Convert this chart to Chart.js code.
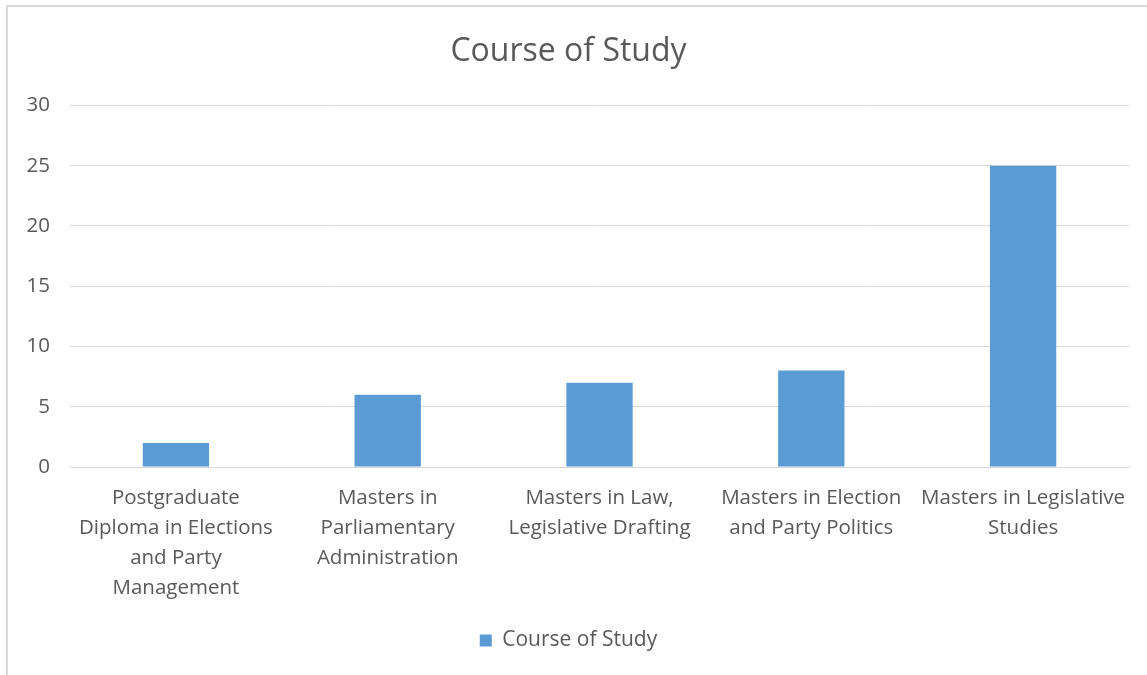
<!DOCTYPE html>
<html lang="en">
<head>
    <meta charset="UTF-8">
    <title>Course of Study</title>
    <script src="https://cdn.jsdelivr.net/npm/chart.js@4.4.0/dist/chart.umd.min.js"></script>
    <style>
        body {
            margin: 0;
            background: #ffffff;
            overflow: hidden;
        }

        .frame {
            position: absolute;
            left: 6px;
            top: 5px;
            width: 1150px;
            height: 680px;
            border: 2px solid #d9d9d9;
            box-sizing: border-box;
        }

        .chart-box {
            position: absolute;
            left: 8px;
            top: 7px;
            width: 1139px;
            height: 668px;
        }
    </style>
</head>
<body>
    <div class="frame"></div>
    <div class="chart-box">
        <canvas id="courseChart"></canvas>
    </div>

    <script>
        const courses = [
            ['Postgraduate', 'Diploma in Elections', 'and Party', 'Management'],
            ['Masters in', 'Parliamentary', 'Administration'],
            ['Masters in Law,', 'Legislative Drafting'],
            ['Masters in Election', 'and Party Politics'],
            ['Masters in Legislative', 'Studies']
        ];
        const students = [2, 6, 7, 8, 25];
        const yTicks = [0, 5, 10, 15, 20, 25, 30];

        const textColor = '#595959';
        const gridColor = '#d9d9d9';
        const fontFamily = '"Open Sans", Lato, sans-serif';

        new Chart(document.getElementById('courseChart'), {
            type: 'bar',
            data: {
                labels: courses,
                datasets: [{
                    label: 'Course of Study',
                    data: students,
                    backgroundColor: '#5b9bd5',
                    borderWidth: 0,
                    barPercentage: 0.313,
                    categoryPercentage: 1.0
                }]
            },
            options: {
                responsive: true,
                maintainAspectRatio: false,
                animation: false,
                layout: {
                    padding: { top: 0, right: 18, bottom: 14, left: 0 }
                },
                plugins: {
                    title: {
                        display: true,
                        text: 'Course of Study',
                        color: textColor,
                        font: { family: fontFamily, size: 32, weight: 'normal' },
                        padding: { top: 26, bottom: 34 }
                    },
                    legend: {
                        display: true,
                        position: 'bottom',
                        labels: {
                            color: textColor,
                            font: { family: fontFamily, size: 21 },
                            boxWidth: 12,
                            boxHeight: 12,
                            padding: 10
                        }
                    },
                    tooltip: { enabled: false }
                },
                scales: {
                    x: {
                        grid: { display: false, drawTicks: false },
                        border: { display: true, color: gridColor, width: 1 },
                        ticks: {
                            color: textColor,
                            font: { family: fontFamily, size: 20.5, lineHeight: 1.46 },
                            padding: 16,
                            maxRotation: 0,
                            autoSkip: false
                        },
                        afterFit: scale => { scale.height = 153; }
                    },
                    y: {
                        min: 0,
                        max: 30,
                        afterBuildTicks: scale => {
                            scale.ticks = yTicks.map(v => ({ value: v }));
                        },
                        grid: { color: gridColor, drawTicks: false },
                        border: { display: false },
                        ticks: {
                            color: textColor,
                            font: { family: fontFamily, size: 20.5 },
                            padding: 20
                        },
                        afterFit: scale => { scale.width = 62; }
                    }
                }
            }
        });
    </script>
</body>
</html>
